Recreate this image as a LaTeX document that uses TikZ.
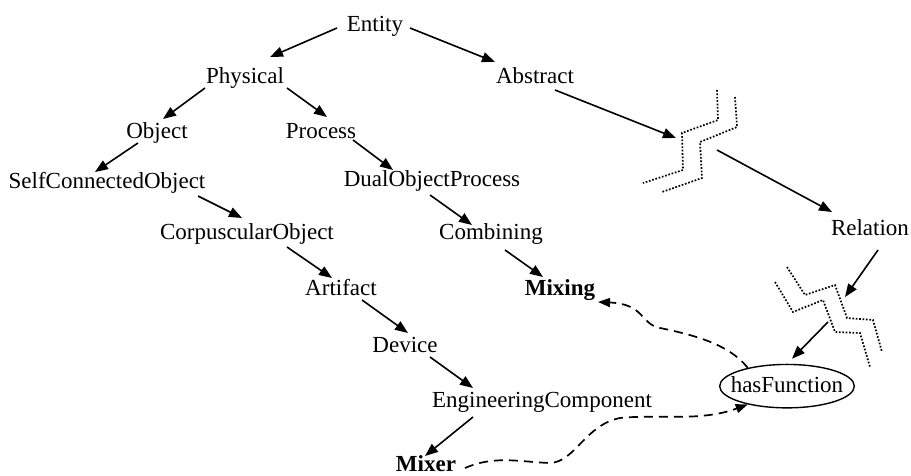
\documentclass[tikz,border=0pt]{standalone}
\usepackage{fontspec}
\setmainfont{Liberation Serif}
\usetikzlibrary{arrows.meta,shapes.geometric}
\begin{document}
\begin{tikzpicture}[x=1pt,y=-1pt,
  concept/.style={anchor=base,inner sep=0pt,font=\fontsize{23}{27}\selectfont},
  keyconcept/.style={concept,font=\fontsize{23}{27}\selectfont\bfseries},
  isa/.style={line width=1.6pt,-{Triangle[length=13pt,width=10pt]}},
  link/.style={line width=1.7pt,dash pattern=on 9pt off 6pt,-{Triangle[length=12pt,width=9pt]}},
  cut/.style={line width=1.7pt,dash pattern=on 1.7pt off 1.7pt}]
\useasboundingbox (0,0) rectangle (911,476);

% taxonomy
\node[concept] (ent)   at (375,32)  {Entity};
\node[concept] (phy)   at (245,84)  {Physical};
\node[concept] (abs)   at (535,84)  {Abstract};
\node[concept] (obj)   at (157,139) {Object};
\node[concept] (proc)  at (321,139) {Process};
\node[concept] (sco)   at (107,189) {SelfConnectedObject};
\node[concept] (dop)   at (432,187) {DualObjectProcess};
\node[concept] (corp)  at (247,240) {CorpuscularObject};
\node[concept] (comb)  at (491,240) {Combining};
\node[concept] (art)   at (341,295) {Artifact};
\node[keyconcept] (mixing) at (560,295) {Mixing};
\node[concept] (dev)   at (405,352) {Device};
\node[concept] (ec)    at (542,407) {EngineeringComponent};
\node[keyconcept] (mixer) at (426,471) {Mixer};
\node[concept] (rel)   at (870,235) {Relation};
\node[concept,ellipse,draw,line width=1.4pt,inner xsep=-8.6pt,inner ysep=5.5pt,
      text height=15.7pt,text depth=4pt] (hasf) at (787,392) {hasFunction};

% break marks on the elided branch
\coordinate (brk1in)  at (676,138);
\coordinate (brk1out) at (717,150);
\coordinate (brk2in)  at (845,297);
\coordinate (brk2out) at (828,322);
\draw[cut] (717,90) -- (718,120) -- (682,133) -- (683,170) -- (643,183);
\draw[cut] (735,97) -- (737,127) -- (700,142) -- (702,178) -- (662,192);
\draw[cut] (787,267) -- (805,295) -- (835,285) -- (847,318) -- (873,320) -- (882,352);
\draw[cut] (775,282) -- (793,312) -- (823,300) -- (835,332) -- (860,333) -- (870,367);

% subclass links
\draw[isa] ([shift={(-38,-4)}]ent.base) -- ([shift={(25,-27)}]phy.base);
\draw[isa] ([shift={(35,-4)}]ent.base) -- ([shift={(-40,-22)}]abs.base);
\draw[isa] ([shift={(-40,4)}]phy.base) -- ([shift={(6,-20)}]obj.base);
\draw[isa] ([shift={(42,4)}]phy.base) -- ([shift={(6,-22)}]proc.base);
\draw[isa] ([shift={(-19,4)}]obj.base) -- ([shift={(-12,-17)}]sco.base);
\draw[isa] ([shift={(32,1)}]proc.base) -- ([shift={(-39,-17)}]dop.base);
\draw[isa] ([shift={(91,7)}]sco.base) -- ([shift={(-5,-22)}]corp.base);
\draw[isa] ([shift={(-2,8)}]dop.base) -- ([shift={(-19,-15)}]comb.base);
\draw[isa] ([shift={(40,7)}]corp.base) -- ([shift={(-9,-17)}]art.base);
\draw[isa] ([shift={(14,10)}]comb.base) -- ([shift={(-17,-18)}]mixing.base);
\draw[isa] ([shift={(21,5)}]art.base) -- ([shift={(3,-19)}]dev.base);
\draw[isa] ([shift={(25,5)}]dev.base) -- ([shift={(-69,-19)}]ec.base);
\draw[isa] ([shift={(-69,10)}]ec.base) -- ([shift={(-1,-15)}]mixer.base);
\draw[isa] ([shift={(20,6)}]abs.base) -- (brk1in);
\draw[isa] (brk1out) -- ([shift={(-38,-23)}]rel.base);
\draw[isa] ([shift={(8,15)}]rel.base) -- (brk2in);
\draw[isa] (brk2out) -- ([shift={(5,-5)}]hasf.north);

% relation links
\draw[link] (hasf.155) .. controls (732,348) and (705,337) .. (660,328)
  .. controls (640,324) and (645,304) .. ([shift={(38,7)}]mixing.base);
\draw[link] ([shift={(39,-3)}]mixer.base) .. controls (495,455) and (520,462) .. (550,463)
  .. controls (575,462) and (585,425) .. (620,418)
  .. controls (660,414) and (700,422) .. (hasf.205);
\end{tikzpicture}
\end{document}
